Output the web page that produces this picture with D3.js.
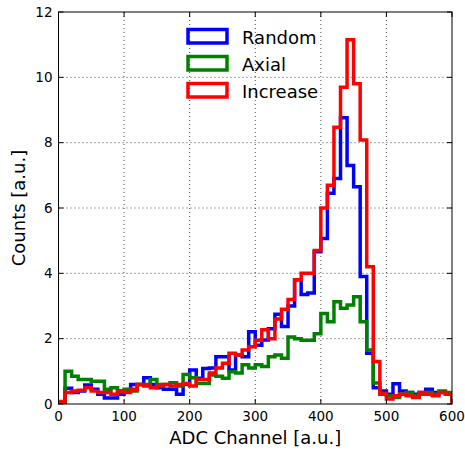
<!DOCTYPE html>
<html><head><meta charset="utf-8">
<script src="https://cdn.jsdelivr.net/npm/d3@7"></script>
<style>body{margin:0;background:#fff}svg{display:block}text{font-family:"DejaVu Sans",sans-serif}</style>
</head><body>
<svg id="c" width="465" height="450"></svg>
<script>
const binWidth = 10;
const xTicks = [0,100,200,300,400,500,600];
const yTicks = [0,2,4,6,8,10,12];
const seriesNames = ["Random","Axial","Increase"];
const seriesColors = ["#0000ff","#008000","#ff0000"];
const random = [0.05,0.48,0.35,0.4,0.58,0.45,0.3,0.18,0.18,0.3,
  0.4,0.6,0.6,0.8,0.6,0.5,0.45,0.45,0.3,0.6,
  1.04,0.79,1.09,1.1,1.45,1.45,1.04,1.5,1.45,2.21,
  1.8,1.96,2.3,2.75,2.37,3.0,3.8,3.35,3.4,4.66,
  5.07,6.45,6.9,8.76,7.3,6.65,3.9,1.55,0.5,0.4,
  0.3,0.62,0.4,0.35,0.3,0.35,0.45,0.35,0.35,0.3];
const axial = [0.05,1.0,0.85,0.75,0.75,0.7,0.7,0.45,0.5,0.4,
  0.45,0.4,0.6,0.6,0.75,0.6,0.6,0.65,0.55,0.9,
  0.8,0.63,0.63,0.89,0.85,0.79,0.99,0.95,1.2,1.1,
  1.2,1.15,1.45,1.5,1.4,2.05,2.0,1.95,1.95,2.15,
  2.77,2.52,3.13,2.93,3.03,3.28,2.52,1.65,0.64,0.3,
  0.25,0.2,0.3,0.35,0.25,0.3,0.35,0.3,0.4,0.35];
const increase = [0.08,0.35,0.4,0.42,0.5,0.4,0.35,0.35,0.3,0.4,
  0.35,0.45,0.6,0.55,0.5,0.55,0.6,0.55,0.6,0.63,
  0.55,0.75,0.75,0.95,1.1,1.25,1.55,1.5,1.65,1.75,
  1.95,2.27,2.0,2.6,2.9,3.2,3.8,4.0,4.0,4.7,
  6.0,6.7,8.47,9.7,11.15,9.8,8.08,4.2,1.3,0.33,
  0.15,0.25,0.3,0.25,0.2,0.35,0.3,0.25,0.35,0.3];
const allSeries = [random, axial, increase];

const svg = d3.select("#c");
const L = 58.5, R = 452, T = 12, B = 404;
const x = d3.scaleLinear().domain([0,600]).range([L,R]);
const y = d3.scaleLinear().domain([0,12]).range([B,T]);

svg.append("defs").append("clipPath").attr("id","clip")
  .append("rect").attr("x",L).attr("y",T).attr("width",R-L).attr("height",B-T);

// grid
const g = svg.append("g");
g.selectAll(".gx").data(xTicks.slice(1,-1)).join("line")
  .attr("x1",d=>x(d)).attr("x2",d=>x(d)).attr("y1",T).attr("y2",B)
  .attr("stroke","#000").attr("stroke-width",0.7).attr("stroke-dasharray","1,3");
g.selectAll(".gy").data(yTicks.slice(1,-1)).join("line")
  .attr("y1",d=>y(d)).attr("y2",d=>y(d)).attr("x1",L).attr("x2",R)
  .attr("stroke","#000").attr("stroke-width",0.7).attr("stroke-dasharray","1,3");

// histograms
function stepPoints(vals){
  const pts=[[0,0]];
  vals.forEach((v,i)=>{pts.push([i*binWidth,v]);pts.push([(i+1)*binWidth,v]);});
  pts.push([vals.length*binWidth,0]);
  return pts;
}
const line = d3.line().x(d=>x(d[0])).y(d=>y(d[1]));
const hg = svg.append("g").attr("clip-path","url(#clip)");
allSeries.forEach((s,i)=>{
  hg.append("path").attr("d",line(stepPoints(s))).attr("fill","none")
    .attr("stroke",seriesColors[i]).attr("stroke-width",3.5).attr("stroke-linejoin","miter");
});

// frame
svg.append("rect").attr("x",L).attr("y",T).attr("width",R-L).attr("height",B-T)
  .attr("fill","none").attr("stroke","#000").attr("stroke-width",1);

// ticks (inward, all sides)
const tk = svg.append("g").attr("stroke","#000").attr("stroke-width",1);
xTicks.forEach(d=>{
  tk.append("line").attr("x1",x(d)).attr("x2",x(d)).attr("y1",B).attr("y2",B-5);
  tk.append("line").attr("x1",x(d)).attr("x2",x(d)).attr("y1",T).attr("y2",T+5);
});
yTicks.forEach(d=>{
  tk.append("line").attr("y1",y(d)).attr("y2",y(d)).attr("x1",L).attr("x2",L+5);
  tk.append("line").attr("y1",y(d)).attr("y2",y(d)).attr("x1",R).attr("x2",R-5);
});
svg.append("g").selectAll("text").data(xTicks).join("text")
  .attr("x",d=>x(d)).attr("y",B+17).attr("text-anchor","middle")
  .attr("font-size",13.5).text(d=>d);
svg.append("g").selectAll("text").data(yTicks).join("text")
  .attr("x",L-6).attr("y",d=>y(d)+4.5).attr("text-anchor","end")
  .attr("font-size",13.5).text(d=>d);

svg.append("text").attr("x",(L+R)/2).attr("y",444).attr("text-anchor","middle")
  .attr("font-size",18).text("ADC Channel [a.u.]");
svg.append("text").attr("transform",`translate(25,${(T+B)/2}) rotate(-90)`)
  .attr("text-anchor","middle").attr("font-size",18).text("Counts [a.u.]");

// legend
const lg = svg.append("g");
seriesNames.forEach((n,i)=>{
  const yy = 29.5 + i*27;
  lg.append("rect").attr("x",188).attr("y",yy).attr("width",39).attr("height",13.5)
    .attr("fill","none").attr("stroke",seriesColors[i]).attr("stroke-width",3.5);
  lg.append("text").attr("x",242).attr("y",yy+14).attr("font-size",18).text(n);
});
</script>
</body></html>
